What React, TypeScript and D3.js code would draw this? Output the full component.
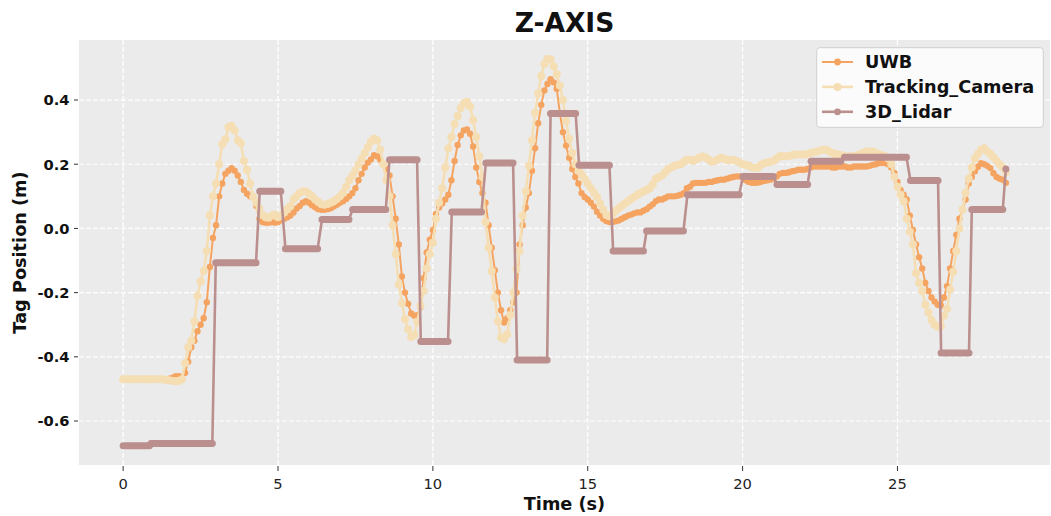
import React from 'react'
import * as d3 from 'd3'

// sampling step of the UWB / camera logs (s)
const STEP = 0.1

// UWB z position, one value every 0.1 s from 0 to 28.5 s
const UWB = [
  -0.47, -0.47, -0.47, -0.47, -0.47, -0.47, -0.47, -0.47, -0.47, -0.47,
  -0.47, -0.47, -0.47, -0.47, -0.47, -0.468, -0.465, -0.46, -0.46, -0.468,
  -0.45, -0.415, -0.37, -0.35, -0.32, -0.3, -0.28, -0.23, -0.12, -0.03,
  0.01, 0.1, 0.14, 0.17, 0.18, 0.188, 0.18, 0.165, 0.145, 0.12,
  0.108, 0.1, 0.1, 0.07, 0.03, 0.02, 0.018, 0.018, 0.02, 0.018,
  0.02, 0.025, 0.03, 0.035, 0.04, 0.05, 0.062, 0.07, 0.08, 0.085,
  0.08, 0.072, 0.066, 0.06, 0.058, 0.058, 0.06, 0.063, 0.068, 0.074,
  0.08, 0.085, 0.092, 0.1, 0.11, 0.125, 0.15, 0.17, 0.19, 0.205,
  0.215, 0.228, 0.225, 0.214, 0.2, 0.185, 0.165, 0.1, 0.03, -0.05,
  -0.15, -0.2, -0.235, -0.265, -0.272, -0.27, -0.245, -0.155, -0.075, -0.035,
  -0.005, 0.045, 0.065, 0.078, 0.09, 0.105, 0.15, 0.21, 0.26, 0.29,
  0.305, 0.308, 0.295, 0.255, 0.19, 0.145, 0.11, 0.08, 0.01, -0.06,
  -0.13, -0.2, -0.255, -0.293, -0.28, -0.255, -0.23, -0.2, -0.05, 0.01,
  0.065, 0.11, 0.18, 0.25, 0.328, 0.385, 0.43, 0.45, 0.465, 0.455,
  0.435, 0.36, 0.3, 0.258, 0.22, 0.185, 0.16, 0.14, 0.11, 0.098,
  0.09, 0.08, 0.068, 0.052, 0.04, 0.03, 0.023, 0.02, 0.02, 0.022,
  0.025, 0.03, 0.035, 0.04, 0.043, 0.047, 0.05, 0.05, 0.055, 0.06,
  0.068, 0.075, 0.085, 0.09, 0.09, 0.095, 0.1, 0.1, 0.1, 0.102,
  0.105, 0.11, 0.125, 0.13, 0.14, 0.142, 0.142, 0.142, 0.142, 0.145,
  0.145, 0.148, 0.15, 0.152, 0.152, 0.155, 0.158, 0.16, 0.162, 0.162,
  0.16, 0.15, 0.145, 0.142, 0.142, 0.143, 0.145, 0.148, 0.15, 0.152,
  0.155, 0.162, 0.17, 0.173, 0.173, 0.175, 0.178, 0.18, 0.183, 0.183,
  0.183, 0.185, 0.19, 0.193, 0.193, 0.193, 0.193, 0.193, 0.193, 0.19,
  0.19, 0.193, 0.193, 0.193, 0.19, 0.19, 0.193, 0.193, 0.193, 0.193,
  0.193, 0.195, 0.198, 0.2, 0.204, 0.204, 0.204, 0.2, 0.19, 0.173,
  0.145, 0.12, 0.105, 0.09, 0.04, -0.005, -0.05, -0.09, -0.125, -0.17,
  -0.195, -0.215, -0.228, -0.238, -0.24, -0.215, -0.18, -0.125, -0.07, -0.02,
  0.03, 0.06, 0.09, 0.14, 0.16, 0.178, 0.192, 0.203, 0.2, 0.195,
  0.188, 0.172, 0.16, 0.155, 0.152, 0.142
]

// tracking camera z position, same timestamps
const CAMERA = [
  -0.47, -0.47, -0.47, -0.47, -0.47, -0.47, -0.47, -0.47, -0.47, -0.47,
  -0.47, -0.47, -0.47, -0.47, -0.472, -0.473, -0.475, -0.475, -0.475, -0.47,
  -0.42, -0.37, -0.35, -0.29, -0.21, -0.165, -0.133, -0.07, 0.04, 0.1,
  0.14, 0.2, 0.262, 0.278, 0.315, 0.32, 0.305, 0.275, 0.265, 0.21,
  0.183, 0.14, 0.098, 0.08, 0.062, 0.042, 0.035, 0.033, 0.04, 0.043,
  0.035, 0.04, 0.05, 0.06, 0.07, 0.09, 0.1, 0.11, 0.116, 0.115,
  0.108, 0.1, 0.09, 0.082, 0.075, 0.074, 0.076, 0.08, 0.085, 0.092,
  0.1, 0.11, 0.13, 0.15, 0.165, 0.18, 0.2, 0.218, 0.235, 0.252,
  0.27, 0.28, 0.275, 0.245, 0.2, 0.15, 0.1, 0.01, -0.08, -0.175,
  -0.232, -0.283, -0.314, -0.338, -0.332, -0.29, -0.24, -0.195, -0.125, -0.08,
  -0.045, 0.03, 0.08, 0.125, 0.19, 0.25, 0.285, 0.325, 0.35, 0.375,
  0.39, 0.395, 0.38, 0.338, 0.285, 0.225, 0.16, 0.02, -0.06, -0.133,
  -0.215, -0.29, -0.34, -0.345, -0.33, -0.27, -0.2, -0.127, -0.07, 0.04,
  0.115, 0.195, 0.275, 0.36, 0.42, 0.475, 0.512, 0.528, 0.527, 0.505,
  0.48, 0.445, 0.4, 0.335, 0.28, 0.235, 0.2, 0.18, 0.168, 0.155,
  0.14, 0.125, 0.112, 0.098, 0.078, 0.058, 0.042, 0.038, 0.045, 0.055,
  0.063, 0.07, 0.078, 0.085, 0.092, 0.098, 0.105, 0.11, 0.115, 0.12,
  0.125, 0.138, 0.155, 0.16, 0.165, 0.175, 0.185, 0.19, 0.195, 0.198,
  0.2, 0.208, 0.214, 0.214, 0.21, 0.215, 0.22, 0.224, 0.222, 0.215,
  0.208, 0.21, 0.215, 0.22, 0.218, 0.212, 0.212, 0.214, 0.21, 0.205,
  0.2, 0.198, 0.195, 0.19, 0.188, 0.19, 0.198, 0.203, 0.205, 0.208,
  0.21, 0.218, 0.225, 0.225, 0.225, 0.226, 0.228, 0.23, 0.23, 0.23,
  0.23, 0.232, 0.235, 0.237, 0.24, 0.243, 0.245, 0.245, 0.24, 0.235,
  0.232, 0.23, 0.228, 0.225, 0.224, 0.225, 0.226, 0.228, 0.232, 0.236,
  0.24, 0.24, 0.24, 0.236, 0.232, 0.228, 0.225, 0.218, 0.2, 0.16,
  0.13, 0.105, 0.085, 0.03, -0.01, -0.05, -0.14, -0.17, -0.195, -0.238,
  -0.262, -0.285, -0.3, -0.306, -0.305, -0.272, -0.25, -0.19, -0.135, -0.07,
  0.0, 0.059, 0.111, 0.155, 0.19, 0.218, 0.232, 0.245, 0.25, 0.24,
  0.232, 0.222, 0.21, 0.2, 0.19, 0.175
]

// lidar holds a value for a while, so it is kept as held segments
const LIDAR_START = [0, 0.9, 2.99, 4.41, 5.24, 6.42, 7.41, 8.6, 9.61, 10.61, 11.71, 12.72, 13.8,
  14.72, 15.82, 16.9, 18.22, 20.01, 21.11, 22.21, 23.29, 25.42, 26.41, 27.4, 28.5]
const LIDAR_END = [0.85, 2.88, 4.29, 5.09, 6.28, 7.29, 8.48, 9.49, 10.49, 11.57, 12.59, 13.69, 14.61,
  15.7, 16.8, 18.09, 19.89, 20.99, 22.1, 23.17, 25.29, 26.31, 27.31, 28.4, 28.5]
const LIDAR_LEVEL = [-0.677, -0.67, -0.107, 0.116, -0.063, 0.028, 0.059, 0.214, -0.352, 0.051, 0.204,
  -0.41, 0.358, 0.197, -0.07, -0.008, 0.105, 0.162, 0.137, 0.209, 0.222, 0.149, -0.388, 0.059, 0.185]

const SERIES = ['UWB', 'Tracking_Camera', '3D_Lidar']
const COLORS = ['#f4a460', '#f5deb3', '#bc8f8f']
const X_TICKS = [0, 5, 10, 15, 20, 25]
const Y_TICKS = [-0.6, -0.4, -0.2, 0.0, 0.2, 0.4]

const W = 1051
const H = 516
const FONT = 'DejaVu Sans, sans-serif'

export default function App () {
  const x = d3.scaleLinear().domain([-1.425, 29.925]).range([79, 1050])
  const y = d3.scaleLinear().domain([-0.737, 0.587]).range([465, 40])
  const line = d3.line<number[]>().x(d => x(d[0])).y(d => y(d[1]))

  const uwbPts = UWB.map((v, i) => [i * STEP, v])
  const camPts = CAMERA.map((v, i) => [i * STEP, v])
  const lidarPts: number[][] = []
  LIDAR_LEVEL.forEach((v, i) => {
    lidarPts.push([LIDAR_START[i], v])
    lidarPts.push([LIDAR_END[i], v])
  })

  const [x0, x1] = x.range()
  const [y0, y1] = y.range()

  return (
    <svg width={W} height={H} style={{ position: 'absolute', left: 0, top: 0 }} fontFamily={FONT}>
      <rect x={0} y={0} width={W} height={H} fill='#ffffff' />
      {/* plot background */}
      <rect x={x0} y={y1} width={x1 - x0} height={y0 - y1} fill='#ebebeb' />

      {/* grid */}
      {X_TICKS.map(t => (
        <line key={'gx' + t} x1={x(t)} x2={x(t)} y1={y1} y2={y0} stroke='#fff' strokeWidth={1.2} strokeDasharray='4.9,2.1' />
      ))}
      {Y_TICKS.map(t => (
        <line key={'gy' + t} x1={x0} x2={x1} y1={y(t)} y2={y(t)} stroke='#fff' strokeWidth={1.2} strokeDasharray='4.9,2.1' />
      ))}

      {/* UWB */}
      <path d={line(uwbPts) || ''} fill='none' stroke={COLORS[0]} strokeWidth={2} />
      {uwbPts.map((d, i) => (
        <circle key={'u' + i} cx={x(d[0])} cy={y(d[1])} r={3.2} fill={COLORS[0]} />
      ))}

      {/* Tracking camera */}
      <path d={line(camPts) || ''} fill='none' stroke={COLORS[1]} strokeWidth={2.6} />
      {camPts.map((d, i) => (
        <circle key={'c' + i} cx={x(d[0])} cy={y(d[1])} r={4} fill={COLORS[1]} />
      ))}

      {/* 3D lidar */}
      <path d={line(lidarPts) || ''} fill='none' stroke={COLORS[2]} strokeWidth={2.6} />
      {LIDAR_LEVEL.map((v, i) => (
        <line key={'l' + i} x1={x(LIDAR_START[i])} x2={x(LIDAR_END[i])} y1={y(v)} y2={y(v)}
          stroke={COLORS[2]} strokeWidth={7} strokeLinecap='round' />
      ))}

      {/* x axis */}
      {X_TICKS.map(t => (
        <g key={'xt' + t} transform={`translate(${x(t)},0)`}>
          <line y1={y0 + 1} y2={y0 + 6} stroke='#333' strokeWidth={1} />
          <text y={488.5} textAnchor='middle' fontSize={14.7} fill='#222'>{t}</text>
        </g>
      ))}
      {/* y axis */}
      {Y_TICKS.map(t => (
        <g key={'yt' + t} transform={`translate(0,${y(t)})`}>
          <line x1={x0 - 5} x2={x0 - 1} stroke='#333' strokeWidth={1} />
          <text x={69.5} dy='0.36em' textAnchor='end' fontSize={14.7} fontWeight='bold' fill='#111'>{t.toFixed(1)}</text>
        </g>
      ))}

      <text x={(x0 + x1) / 2} y={509.5} textAnchor='middle' fontSize={17.7} fontWeight='bold' fill='#111'>Time (s)</text>
      <text transform={`translate(26,${(y0 + y1) / 2}) rotate(-90)`} textAnchor='middle' fontSize={17.7} fontWeight='bold' fill='#111'>Tag Position (m)</text>
      <text x={(x0 + x1) / 2} y={31.5} textAnchor='middle' fontSize={26.5} fontWeight='bold' fill='#111'>Z-AXIS</text>

      {/* legend */}
      <rect x={816.7} y={47.7} width={226.6} height={79.6} rx={3} fill='#fbfbfb' stroke='#d0d0d0' strokeWidth={1} />
      {SERIES.map((name, i) => {
        const cy = 62 + i * 24.9
        return (
          <g key={name}>
            <line x1={822} x2={853} y1={cy} y2={cy} stroke={COLORS[i]} strokeWidth={i === 0 ? 2 : 2.6} />
            <circle cx={837.5} cy={cy} r={i === 1 ? 4 : 3.4} fill={COLORS[i]} />
            <text x={865} y={cy + 5.8} fontSize={17.7} fontWeight='bold' fill='#111'>{name}</text>
          </g>
        )
      })}
    </svg>
  )
}
